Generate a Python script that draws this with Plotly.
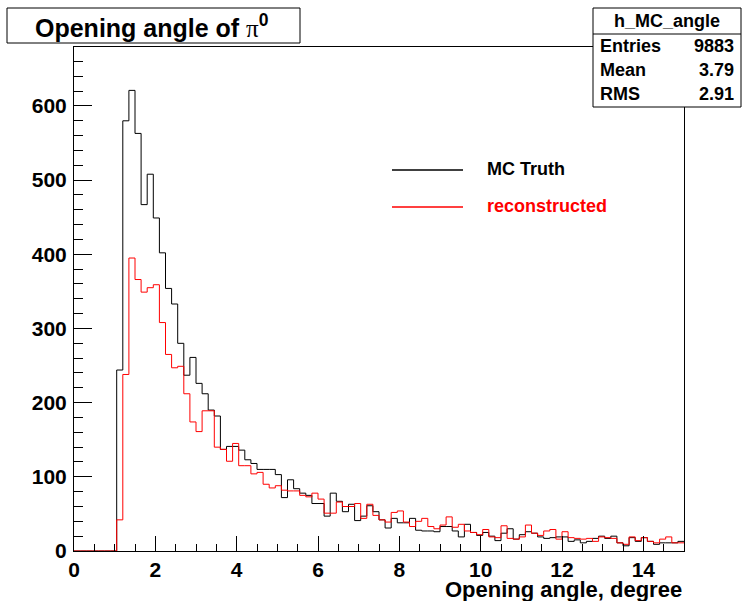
import numpy as np
import plotly.graph_objects as go

# Histogram binning: 100 bins of 0.15 degree on [0, 15]
bin_lo, bin_hi, n_bins = 0.0, 15.0, 100

# Bin contents, MC truth opening angle
mc_truth = [
    0, 0, 0, 0, 0, 0, 0, 244, 580, 621,
    563, 467, 508, 449, 402, 354, 333, 280, 237, 261,
    226, 212, 190, 182, 137, 141, 141, 136, 123, 118,
    110, 110, 110, 103, 72, 96, 84, 78, 75, 64,
    64, 47, 78, 67, 53, 63, 41, 47, 61, 53,
    42, 31, 44, 38, 38, 44, 28, 27, 27, 26,
    33, 33, 27, 19, 36, 25, 21, 25, 20, 14,
    24, 30, 16, 22, 26, 24, 19, 17, 18, 19,
    19, 13, 15, 11, 13, 17, 20, 17, 20, 11,
    7, 18, 13, 18, 13, 9, 11, 11, 11, 13,
]

# Bin contents, reconstructed opening angle
reconstructed = [
    0, 0, 0, 0, 0, 0, 0, 42, 238, 395,
    366, 349, 355, 359, 308, 265, 247, 249, 212, 174,
    161, 189, 189, 140, 137, 121, 145, 115, 115, 104,
    106, 90, 85, 88, 82, 81, 81, 75, 73, 78,
    70, 51, 51, 66, 60, 60, 64, 44, 63, 48,
    42, 39, 52, 54, 39, 33, 40, 44, 33, 30,
    35, 46, 32, 36, 27, 25, 22, 29, 19, 18,
    34, 17, 16, 19, 35, 24, 21, 27, 29, 16,
    26, 18, 17, 16, 17, 13, 19, 18, 17, 11,
    9, 19, 14, 18, 13, 11, 16, 19, 11, 11,
]

# Statistics box contents
hist_name = "h_MC_angle"
stat_labels = ["Entries", "Mean", "RMS"]
stat_values = ["9883", "3.79", "2.91"]

series_names = ["MC Truth", "reconstructed"]
series_colors = ["#000000", "#ff0000"]

edges = np.linspace(bin_lo, bin_hi, n_bins + 1)

FONT = "Liberation Sans, Arial, Helvetica, sans-serif"
W, H = 742, 601
L, R, T, B = 74, 684, 47, 551  # frame in pixels


def px(x):
    return (x - L) / (R - L)


def py(y):
    return (B - y) / (B - T)


fig = go.Figure()
for vals, name, col in zip([mc_truth, reconstructed], series_names, series_colors):
    fig.add_trace(go.Scatter(
        x=edges,
        y=list(vals) + [vals[-1]],
        mode="lines",
        line=dict(color=col, width=1, shape="hv"),
        name=name,
        showlegend=False,
        hoverinfo="skip",
    ))

axis_common = dict(
    showgrid=False, zeroline=False, showline=True, linecolor="black",
    linewidth=1, mirror=True, ticks="inside", tickcolor="black",
    tickfont=dict(family=FONT, size=21, color="black", weight="bold"),
)

fig.update_xaxes(
    range=[bin_lo, bin_hi], tick0=0, dtick=2, ticklen=15, tickwidth=1,
    minor=dict(ticks="inside", dtick=0.5, ticklen=7, tickcolor="black"),
    ticklabelstandoff=0,
    **axis_common,
)
fig.update_yaxes(
    range=[0, 679.5], tick0=0, dtick=100, ticklen=18, tickwidth=1,
    minor=dict(ticks="inside", dtick=20, ticklen=9, tickcolor="black"),
    ticklabelstandoff=2,
    **axis_common,
)

shapes = []
annotations = []

# Title box
shapes.append(dict(type="rect", xref="paper", yref="paper",
                   x0=px(7), x1=px(300), y0=py(43), y1=py(8),
                   line=dict(color="black", width=1), fillcolor="white"))
annotations.append(dict(
    xref="paper", yref="paper", x=px(152), y=py(26), showarrow=False,
    xanchor="center", yanchor="middle",
    text="<b>Opening angle of </b><span style='font-family:Liberation Serif'>π</span><sup><b>0</b></sup>",
    font=dict(family=FONT, size=25, color="black"),
))

# Statistics box
shapes.append(dict(type="rect", xref="paper", yref="paper",
                   x0=px(593), x1=px(741), y0=py(107), y1=py(8),
                   line=dict(color="black", width=1), fillcolor="white"))
shapes.append(dict(type="line", xref="paper", yref="paper",
                   x0=px(593), x1=px(741), y0=py(34), y1=py(34),
                   line=dict(color="black", width=1)))
annotations.append(dict(
    xref="paper", yref="paper", x=px(667), y=py(21), showarrow=False,
    xanchor="center", yanchor="middle", text="<b>%s</b>" % hist_name,
    font=dict(family=FONT, size=18, color="black"),
))
for i, (lab, val) in enumerate(zip(stat_labels, stat_values)):
    yy = py(46 + 24 * i)
    annotations.append(dict(
        xref="paper", yref="paper", x=px(598), y=yy, showarrow=False,
        xanchor="left", yanchor="middle", text="<b>%s</b>" % lab,
        font=dict(family=FONT, size=18, color="black"),
    ))
    annotations.append(dict(
        xref="paper", yref="paper", x=px(736), y=yy, showarrow=False,
        xanchor="right", yanchor="middle", text="<b>%s</b>" % val,
        font=dict(family=FONT, size=18, color="black"),
    ))

# Legend
for i, (name, col) in enumerate(zip(series_names, series_colors)):
    ly = 170 + 37 * i
    shapes.append(dict(type="line", xref="paper", yref="paper",
                       x0=px(392), x1=px(463), y0=py(ly), y1=py(ly),
                       line=dict(color=col, width=1.5)))
    annotations.append(dict(
        xref="paper", yref="paper", x=px(485), y=py(ly - 1), showarrow=False,
        xanchor="left", yanchor="middle", text="<b>%s</b>" % name,
        font=dict(family=FONT, size=18, color=col),
    ))

# X axis title
annotations.append(dict(
    xref="paper", yref="paper", x=1, y=py(589), showarrow=False,
    xanchor="right", yanchor="middle", text="<b>Opening angle, degree</b>",
    font=dict(family=FONT, size=22, color="black"),
))

fig.update_layout(
    width=W, height=H,
    margin=dict(l=L, r=W - R, t=T, b=H - B),
    paper_bgcolor="white", plot_bgcolor="white",
    shapes=shapes, annotations=annotations,
    showlegend=False,
)

fig.write_html("out.html")
